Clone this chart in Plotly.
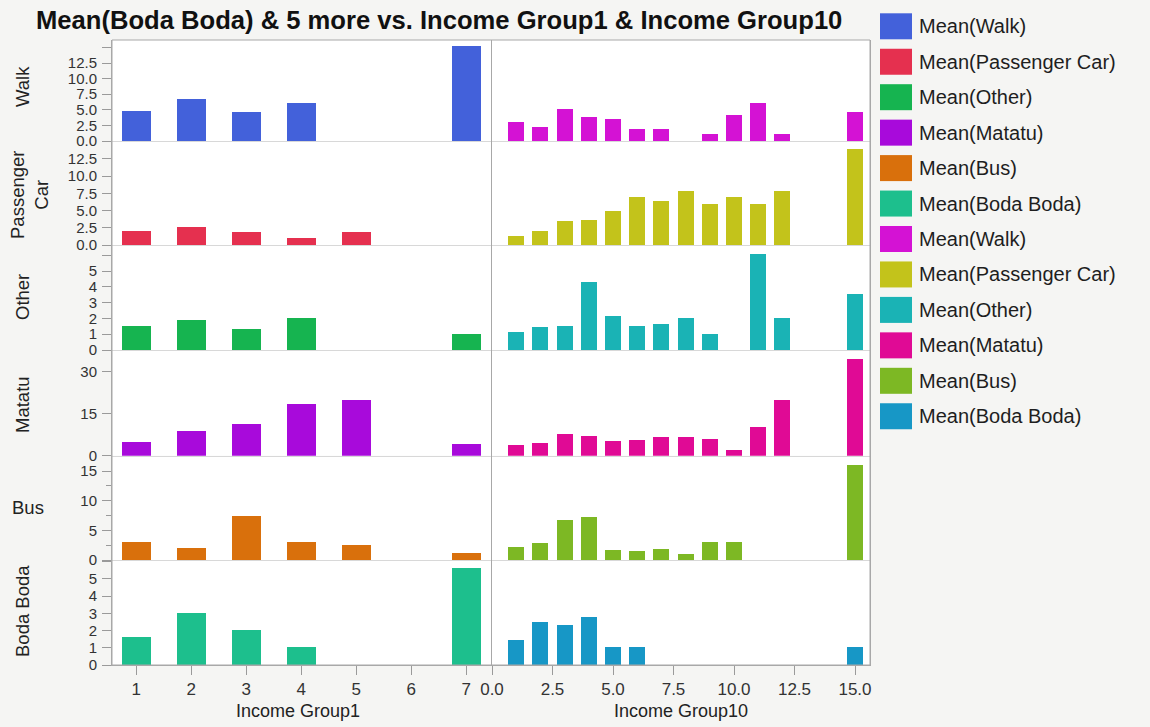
import plotly.graph_objects as go
from plotly.subplots import make_subplots

# ---- data -------------------------------------------------------------
modes = ["Walk", "Passenger Car", "Other", "Matatu", "Bus", "Boda Boda"]
row_labels = ["Walk", "Passenger<br>Car", "Other", "Matatu", "Bus", "Boda Boda"]

group1 = [1, 2, 3, 4, 5, 6, 7]
group10 = [1, 2, 3, 4, 5, 6, 7, 8, 9, 10, 11, 12, 15]

g1_walk = [4.8, 6.7, 4.7, 6.1, None, None, 15.2]
g1_car = [2.05, 2.65, 1.9, 0.95, 1.9, None, None]
g1_other = [1.5, 1.9, 1.35, 2.05, None, None, 1.0]
g1_matatu = [5.0, 9.0, 11.2, 18.4, 20.0, None, 4.2]
g1_bus = [3.05, 2.05, 7.4, 3.1, 2.55, None, 1.15]
g1_boda = [1.65, 3.0, 2.05, 1.05, None, None, 5.65]

g10_walk = [3.1, 2.2, 5.1, 3.8, 3.6, 2.0, 2.0, None, 1.1, 4.1, 6.1, 1.1, 4.6]
g10_car = [1.3, 2.1, 3.5, 3.7, 4.9, 7.0, 6.4, 7.9, 5.9, 6.9, 5.9, 7.9, 13.9]
g10_other = [1.15, 1.45, 1.55, 4.3, 2.15, 1.5, 1.65, 2.0, 1.0, None, 6.1, 2.0, 3.55]
g10_matatu = [4.0, 4.6, 7.6, 7.1, 5.2, 5.5, 6.8, 6.8, 5.8, 1.9, 10.1, 20.0, 34.7]
g10_bus = [2.2, 2.9, 6.8, 7.3, 1.8, 1.5, 1.9, 1.1, 3.1, 3.1, None, None, 16.1]
g10_boda = [1.45, 2.5, 2.35, 2.8, 1.05, 1.05, None, None, None, None, None, None, 1.05]

g1_series = [g1_walk, g1_car, g1_other, g1_matatu, g1_bus, g1_boda]
g10_series = [g10_walk, g10_car, g10_other, g10_matatu, g10_bus, g10_boda]

g1_colors = ["#4361DA", "#E5304F", "#16B450", "#A80ADB", "#D9700C", "#1DBF8D"]
g10_colors = ["#D412D4", "#C3C31B", "#1AB3B5", "#E00A95", "#7DB824", "#1797C6"]

# y ranges, labelled ticks and minor ticks per row
y_ranges = [[0, 16.2], [0, 15.1], [0, 6.65], [0, 37.8], [0, 17.6], [0, 6.1]]
y_ticks = [
    [0, 2.5, 5, 7.5, 10, 12.5, 15],
    [0, 2.5, 5, 7.5, 10, 12.5, 15],
    [0, 1, 2, 3, 4, 5, 6],
    [0, 15, 30],
    [0, 5, 10, 15],
    [0, 1, 2, 3, 4, 5, 6],
]
y_ticktext = [
    ["0.0", "2.5", "5.0", "7.5", "10.0", "12.5", ""],
    ["0.0", "2.5", "5.0", "7.5", "10.0", "12.5", ""],
    ["0", "1", "2", "3", "4", "5", ""],
    ["0", "15", "30"],
    ["0", "5", "10", "15"],
    ["0", "1", "2", "3", "4", "5", ""],
]
y_minor = [[], [], [], [], [2.5, 7.5, 12.5], []]

x10_ticks = [0, 2.5, 5, 7.5, 10, 12.5, 15]
x10_ticktext = ["0.0", "2.5", "5.0", "7.5", "10.0", "12.5", "15.0"]

# ---- layout geometry (pixels) ----------------------------------------
W, H = 1150, 727
L, R, T, B = 112, 870, 40, 665
FONT = "Liberation Sans, Arial, Helvetica, sans-serif"


def px(x):
    return (x - L) / (R - L)


def py(y):
    return (B - y) / (B - T)


fig = make_subplots(
    rows=6, cols=2,
    shared_xaxes=True, shared_yaxes=True,
    horizontal_spacing=0, vertical_spacing=0,
    column_widths=[380, 378],
    row_heights=[101, 104, 105, 105.7, 104.3, 105],
)

for i, mode in enumerate(modes):
    fig.add_trace(
        go.Bar(x=group1, y=g1_series[i], width=0.53, name=f"Mean({mode})",
               marker=dict(color=g1_colors[i], line=dict(width=0)),
               showlegend=False),
        row=i + 1, col=1,
    )
    fig.add_trace(
        go.Bar(x=group10, y=g10_series[i], width=0.66, name=f"Mean({mode})",
               marker=dict(color=g10_colors[i], line=dict(width=0)),
               showlegend=False),
        row=i + 1, col=2,
    )

ytick_font = dict(family=FONT, size=15, color="#333333")
xtick_font = dict(family=FONT, size=17, color="#333333")

for i in range(6):
    r = i + 1
    last = r == 6
    minor = dict(tickvals=y_minor[i], ticks="outside", ticklen=5,
                 tickcolor="#9A9A9A", showgrid=False) if y_minor[i] else None
    fig.update_yaxes(
        range=y_ranges[i], tickvals=y_ticks[i], ticktext=y_ticktext[i],
        ticks="outside", ticklen=9, tickcolor="#9A9A9A", tickwidth=1,
        showline=True, linecolor="#A8A8A8", linewidth=1,
        showgrid=False, zeroline=False, tickfont=ytick_font,
        ticklabelstandoff=2, automargin=False, minor=minor,
        row=r, col=1,
    )
    fig.update_yaxes(
        range=y_ranges[i], ticks="", showticklabels=False,
        showline=True, linecolor="#A8A8A8", linewidth=1, mirror=True,
        showgrid=False, zeroline=False, automargin=False,
        row=r, col=2,
    )
    fig.update_xaxes(
        range=[0.56, 7.47], tickvals=group1,
        ticks="outside" if last else "", ticklen=9, tickcolor="#9A9A9A",
        showticklabels=last, tickfont=xtick_font,
        showline=True, linecolor="#A8A8A8" if last else "#D8D8D8", linewidth=1,
        showgrid=False, zeroline=False, automargin=False,
        row=r, col=1,
    )
    fig.update_xaxes(
        range=[0, 15.62], tickvals=x10_ticks, ticktext=x10_ticktext,
        ticks="outside" if last else "", ticklen=9, tickcolor="#9A9A9A",
        showticklabels=last, tickfont=xtick_font,
        showline=True, linecolor="#A8A8A8" if last else "#D8D8D8", linewidth=1,
        showgrid=False, zeroline=False, automargin=False,
        row=r, col=2,
    )

annotations = []

# row labels on the left
label_pos = [(22, 87, -90), (29, 195, -90), (22, 297, -90),
             (22, 405, -90), (28, 507, 0), (22, 611, -90)]
for text, (x, y, ang) in zip(row_labels, label_pos):
    annotations.append(dict(
        text=text, x=px(x), y=py(y), xref="paper", yref="paper",
        showarrow=False, textangle=ang, xanchor="center", yanchor="middle",
        font=dict(family=FONT, size=18.5, color="#222222"),
    ))

# x-axis titles
for text, x in [("Income Group1", 298), ("Income Group10", 681)]:
    annotations.append(dict(
        text=text, x=px(x), y=py(711), xref="paper", yref="paper",
        showarrow=False, xanchor="center", yanchor="middle",
        font=dict(family=FONT, size=18, color="#222222"),
    ))

# key on the right
shapes = [dict(type="rect", xref="paper", yref="paper", x0=0, x1=1, y0=0, y1=1,
               line=dict(color="#A8A8A8", width=1), fillcolor="rgba(0,0,0,0)",
               layer="above")]
key_entries = [(f"Mean({m})", c) for m, c in zip(modes, g1_colors)] + \
              [(f"Mean({m})", c) for m, c in zip(modes, g10_colors)]
for k, (name, color) in enumerate(key_entries):
    top = 13.3 + k * 35.45
    shapes.append(dict(
        type="rect", xref="paper", yref="paper",
        x0=px(880), x1=px(912), y0=py(top + 26), y1=py(top),
        fillcolor=color, line=dict(width=0),
    ))
    annotations.append(dict(
        text=name, x=px(917), y=py(top + 13), xref="paper", yref="paper",
        showarrow=False, xanchor="left", yanchor="middle",
        font=dict(family=FONT, size=20, color="#1E1E1E"),
    ))

fig.update_layout(
    width=W, height=H, autosize=False,
    margin=dict(l=L, r=W - R, t=T, b=H - B, pad=0),
    template="none",
    paper_bgcolor="#F5F5F3", plot_bgcolor="#FFFFFF",
    bargap=0, showlegend=False,
    title=dict(
        text="<b>Mean(Boda Boda) & 5 more vs. Income Group1 & Income Group10</b>",
        x=36 / W, xanchor="left", xref="container",
        y=1 - 20 / H, yanchor="middle", yref="container",
        font=dict(family=FONT, size=25.6, color="#111111"),
    ),
    annotations=annotations,
    shapes=shapes,
)

fig.write_html("out.html")
